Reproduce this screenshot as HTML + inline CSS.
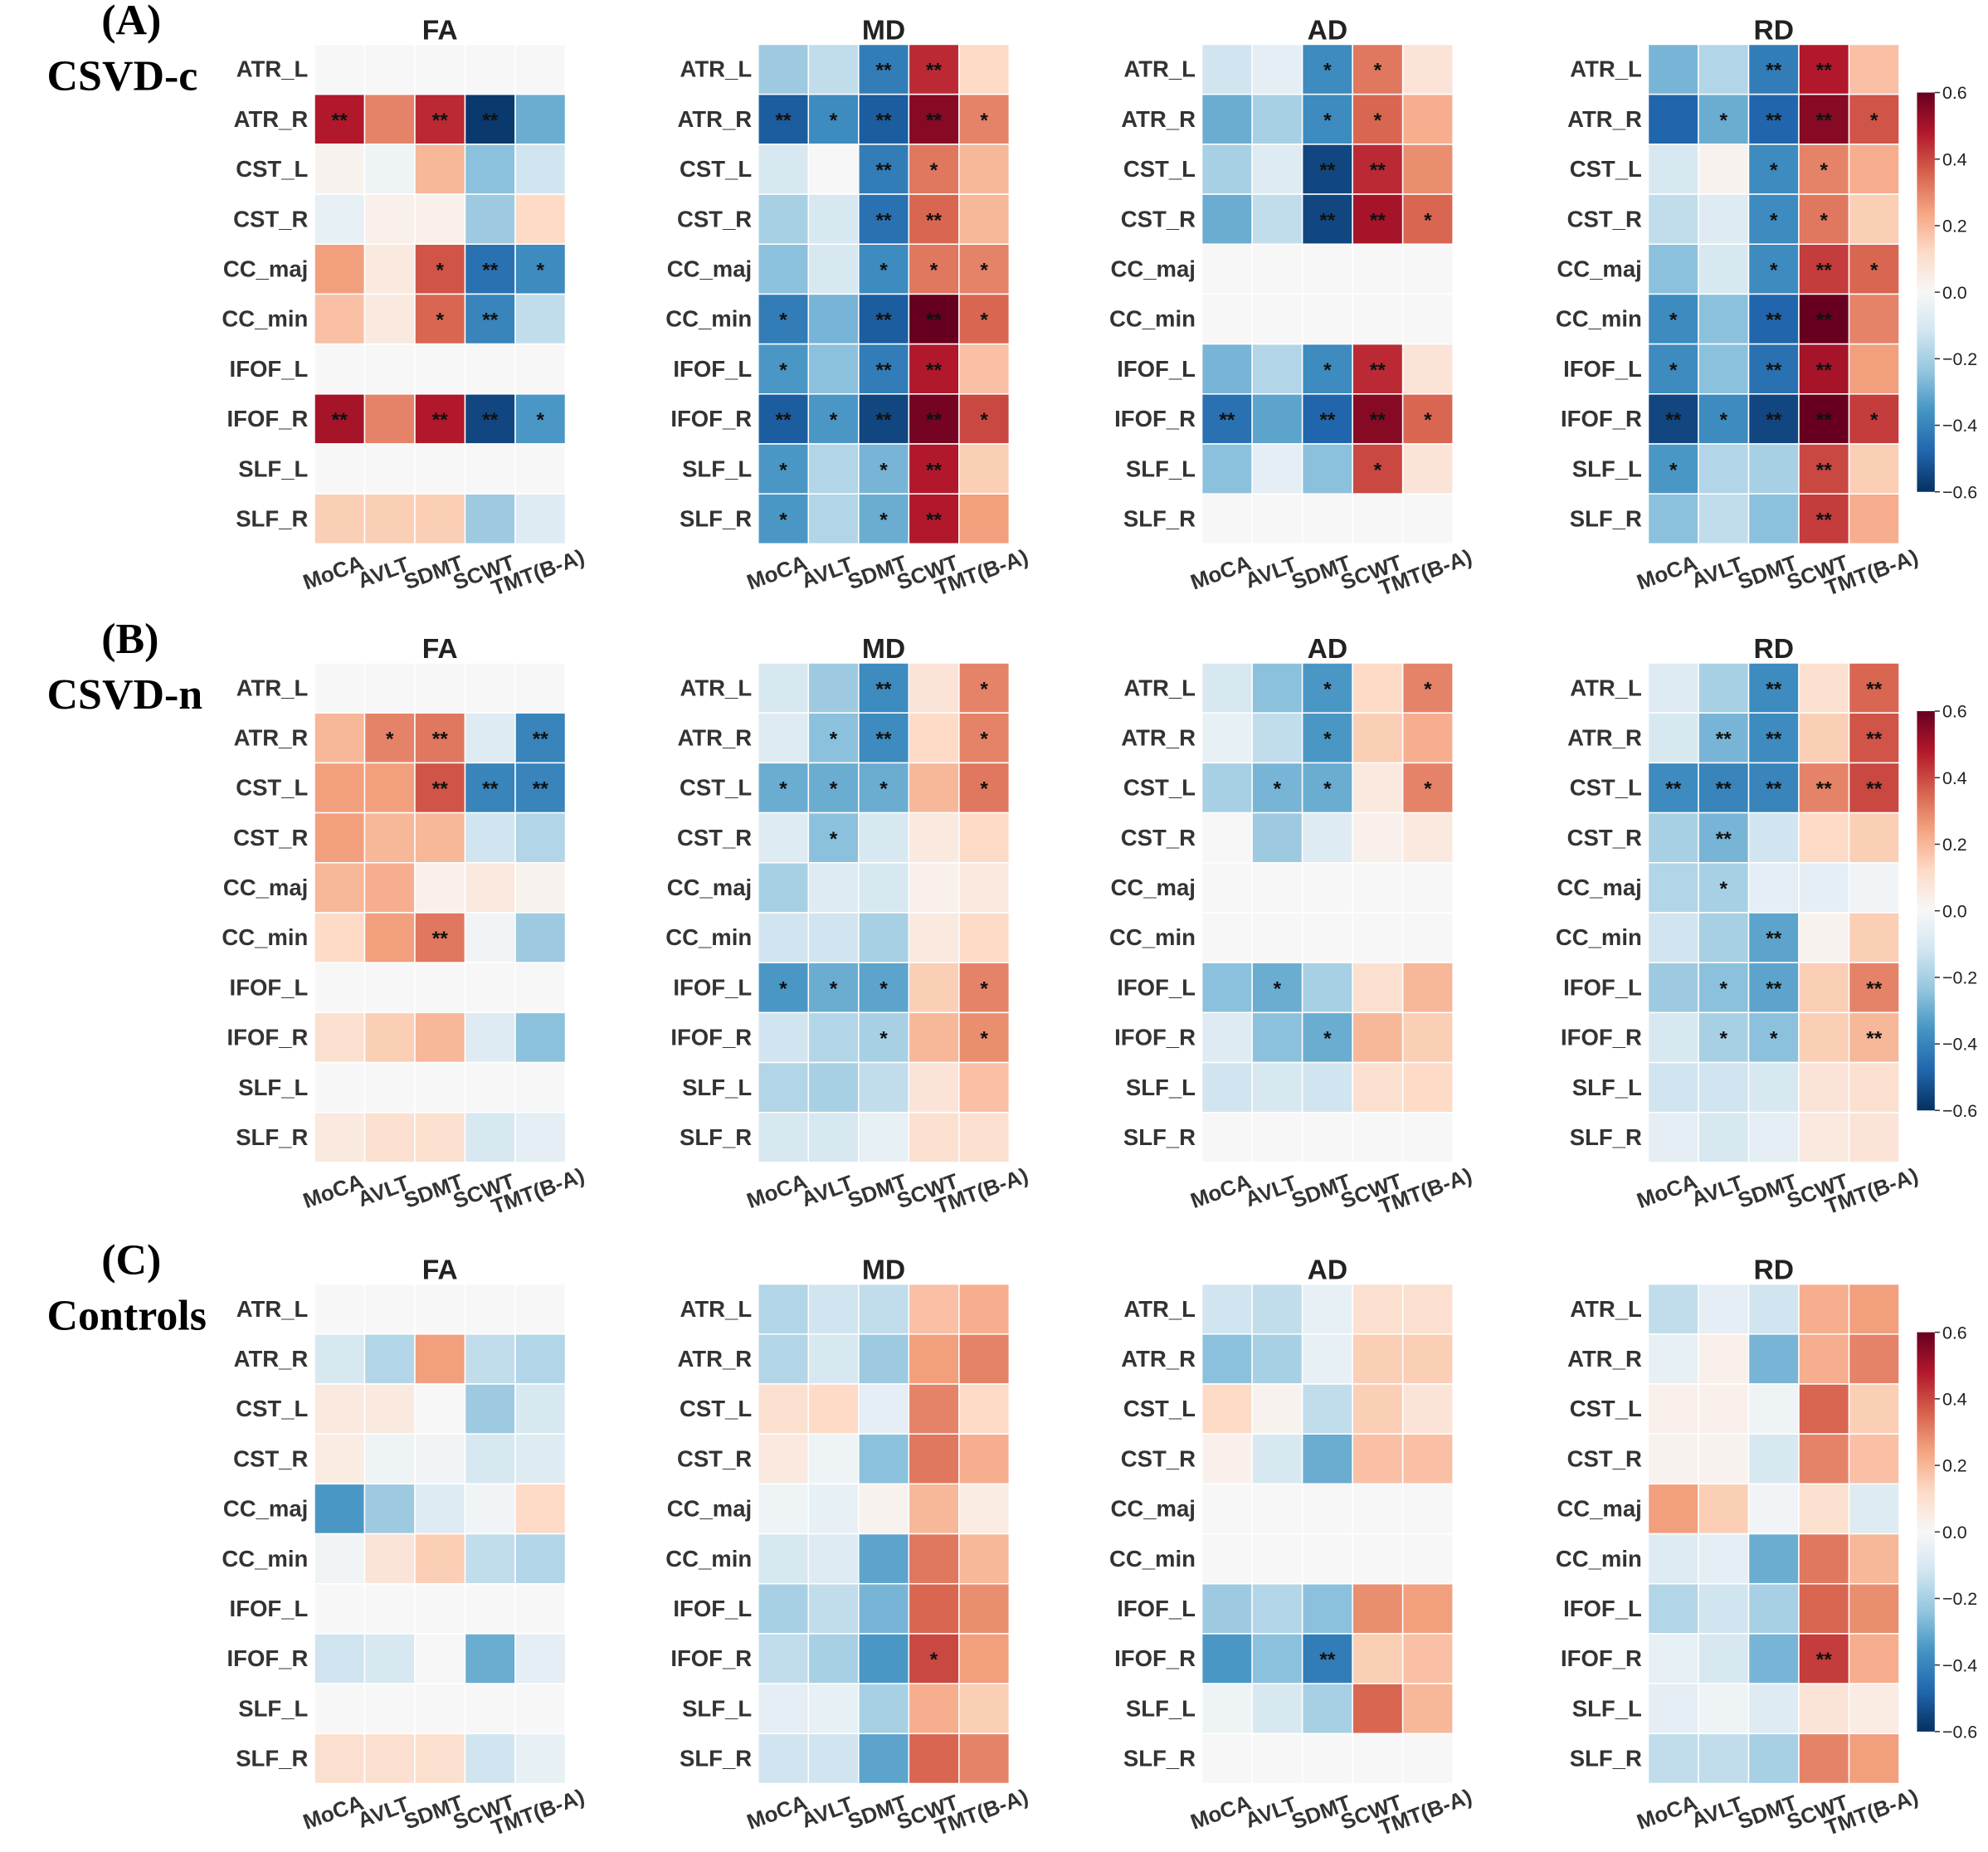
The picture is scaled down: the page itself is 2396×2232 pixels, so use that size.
<!DOCTYPE html>
<html><head><meta charset="utf-8"><style>
html,body{margin:0;padding:0;background:#fff;}
svg{display:block;}
</style></head><body>
<svg id="fig" xmlns="http://www.w3.org/2000/svg" width="2396" height="2232" viewBox="0 0 1568 1461" preserveAspectRatio="none"></svg>
<script>
const rowLabels=["ATR_L","ATR_R","CST_L","CST_R","CC_maj","CC_min","IFOF_L","IFOF_R","SLF_L","SLF_R"];
const colLabels=["MoCA","AVLT","SDMT","SCWT","TMT(B-A)"];
const metrics=["FA","MD","AD","RD"];
const groups=[{id:"A",letter:"(A)",name:"CSVD-c"},{id:"B",letter:"(B)",name:"CSVD-n"},{id:"C",letter:"(C)",name:"Controls"}];
const cbTicks=[0.6,0.4,0.2,0.0,-0.2,-0.4,-0.6];
const W=0.0;
const A_FA=[[W,W,W,W,W],[0.48,0.3,0.45,-0.58,-0.3],[0.02,-0.03,0.2,-0.25,-0.12],[-0.05,0.03,0.03,-0.22,0.12],[0.25,0.06,0.38,-0.45,-0.38],[0.18,0.06,0.35,-0.4,-0.15],[W,W,W,W,W],[0.5,0.3,0.48,-0.55,-0.35],[W,W,W,W,W],[0.15,0.15,0.15,-0.22,-0.08]];
const A_MD=[[-0.22,-0.15,-0.42,0.45,0.12],[-0.5,-0.38,-0.5,0.55,0.3],[-0.1,0.0,-0.42,0.32,0.2],[-0.2,-0.1,-0.45,0.35,0.2],[-0.25,-0.1,-0.38,0.32,0.3],[-0.42,-0.28,-0.5,0.6,0.35],[-0.35,-0.25,-0.42,0.48,0.18],[-0.5,-0.35,-0.55,0.58,0.4],[-0.35,-0.18,-0.28,0.48,0.15],[-0.35,-0.18,-0.3,0.48,0.25]];
const A_AD=[[-0.12,-0.06,-0.38,0.32,0.08],[-0.3,-0.2,-0.38,0.35,0.22],[-0.2,-0.08,-0.55,0.45,0.28],[-0.3,-0.15,-0.55,0.5,0.35],[W,W,W,W,W],[W,W,W,W,W],[-0.28,-0.18,-0.38,0.45,0.08],[-0.45,-0.32,-0.48,0.55,0.35],[-0.25,-0.06,-0.25,0.4,0.08],[W,W,W,W,W]];
const A_RD=[[-0.28,-0.18,-0.42,0.48,0.18],[-0.48,-0.3,-0.48,0.55,0.38],[-0.1,0.02,-0.38,0.3,0.22],[-0.15,-0.08,-0.38,0.32,0.15],[-0.25,-0.1,-0.38,0.42,0.35],[-0.38,-0.25,-0.48,0.6,0.3],[-0.38,-0.25,-0.45,0.5,0.25],[-0.55,-0.38,-0.55,0.6,0.42],[-0.35,-0.18,-0.2,0.4,0.15],[-0.25,-0.15,-0.25,0.42,0.22]];
const B_FA=[[W,W,W,W,W],[0.2,0.3,0.32,-0.08,-0.4],[0.25,0.25,0.38,-0.4,-0.4],[0.25,0.2,0.2,-0.12,-0.18],[0.2,0.22,0.03,0.06,0.02],[0.12,0.25,0.32,-0.02,-0.22],[W,W,W,W,W],[0.1,0.15,0.2,-0.08,-0.25],[W,W,W,W,W],[0.06,0.1,0.1,-0.1,-0.06]];
const B_MD=[[-0.1,-0.22,-0.38,0.08,0.3],[-0.08,-0.25,-0.38,0.12,0.3],[-0.3,-0.3,-0.3,0.2,0.32],[-0.08,-0.25,-0.1,0.06,0.12],[-0.2,-0.08,-0.1,0.03,0.06],[-0.12,-0.12,-0.2,0.06,0.12],[-0.35,-0.3,-0.32,0.15,0.3],[-0.12,-0.18,-0.2,0.2,0.28],[-0.18,-0.2,-0.15,0.08,0.18],[-0.1,-0.1,-0.05,0.1,0.1]];
const B_AD=[[-0.1,-0.25,-0.35,0.12,0.3],[-0.05,-0.15,-0.35,0.15,0.22],[-0.2,-0.28,-0.3,0.06,0.3],[0.0,-0.22,-0.08,0.03,0.06],[W,W,W,W,W],[W,W,W,W,W],[-0.25,-0.3,-0.2,0.1,0.2],[-0.08,-0.25,-0.3,0.2,0.15],[-0.12,-0.1,-0.12,0.1,0.12],[W,W,W,W,W]];
const B_RD=[[-0.08,-0.2,-0.38,0.1,0.35],[-0.1,-0.28,-0.38,0.15,0.38],[-0.38,-0.4,-0.4,0.3,0.4],[-0.2,-0.28,-0.12,0.12,0.15],[-0.18,-0.2,-0.06,-0.06,-0.02],[-0.12,-0.2,-0.32,0.02,0.15],[-0.22,-0.25,-0.32,0.15,0.3],[-0.1,-0.2,-0.25,0.15,0.2],[-0.12,-0.12,-0.1,0.08,0.1],[-0.06,-0.1,-0.06,0.06,0.08]];
const C_FA=[[W,W,W,W,W],[-0.1,-0.18,0.25,-0.15,-0.18],[0.06,0.06,0.0,-0.22,-0.1],[0.05,-0.03,-0.02,-0.1,-0.08],[-0.35,-0.22,-0.08,-0.02,0.12],[-0.02,0.08,0.15,-0.15,-0.18],[W,W,W,W,W],[-0.12,-0.1,0.0,-0.3,-0.06],[W,W,W,W,W],[0.1,0.1,0.1,-0.12,-0.05]];
const C_MD=[[-0.18,-0.12,-0.15,0.18,0.22],[-0.18,-0.1,-0.22,0.25,0.3],[0.1,0.12,-0.06,0.3,0.12],[0.06,-0.03,-0.25,0.32,0.22],[-0.03,-0.05,0.02,0.2,0.05],[-0.1,-0.08,-0.32,0.32,0.2],[-0.2,-0.15,-0.28,0.35,0.28],[-0.15,-0.2,-0.35,0.4,0.25],[-0.06,-0.05,-0.2,0.22,0.15],[-0.12,-0.12,-0.32,0.35,0.3]];
const C_AD=[[-0.12,-0.15,-0.05,0.1,0.1],[-0.25,-0.2,-0.05,0.15,0.15],[0.12,0.02,-0.15,0.15,0.08],[0.03,-0.1,-0.3,0.18,0.18],[W,W,W,W,W],[W,W,W,W,W],[-0.22,-0.18,-0.25,0.28,0.25],[-0.35,-0.25,-0.42,0.15,0.18],[-0.03,-0.1,-0.2,0.35,0.2],[W,W,W,W,W]];
const C_RD=[[-0.15,-0.06,-0.12,0.22,0.25],[-0.05,0.03,-0.28,0.22,0.3],[0.03,0.03,-0.03,0.35,0.15],[0.02,0.02,-0.1,0.3,0.18],[0.25,0.15,-0.02,0.1,-0.08],[-0.08,-0.06,-0.3,0.32,0.2],[-0.18,-0.12,-0.2,0.35,0.28],[-0.05,-0.1,-0.28,0.42,0.22],[-0.06,-0.03,-0.08,0.08,0.05],[-0.15,-0.15,-0.2,0.3,0.25]];
const E=["","","","",""];
const A_FA_s=[E,["**","","**","**",""],E,E,["","","*","**","*"],["","","*","**",""],E,["**","","**","**","*"],E,E];
const A_MD_s=[["","","**","**",""],["**","*","**","**","*"],["","","**","*",""],["","","**","**",""],["","","*","*","*"],["*","","**","**","*"],["*","","**","**",""],["**","*","**","**","*"],["*","","*","**",""],["*","","*","**",""]];
const A_AD_s=[["","","*","*",""],["","","*","*",""],["","","**","**",""],["","","**","**","*"],E,E,["","","*","**",""],["**","","**","**","*"],["","","","*",""],E];
const A_RD_s=[["","","**","**",""],["","*","**","**","*"],["","","*","*",""],["","","*","*",""],["","","*","**","*"],["*","","**","**",""],["*","","**","**",""],["**","*","**","**","*"],["*","","","**",""],["","","","**",""]];
const B_FA_s=[E,["","*","**","","**"],["","","**","**","**"],E,E,["","","**","",""],E,E,E,E];
const B_MD_s=[["","","**","","*"],["","*","**","","*"],["*","*","*","","*"],["","*","","",""],E,E,["*","*","*","","*"],["","","*","","*"],E,E];
const B_AD_s=[["","","*","","*"],["","","*","",""],["","*","*","","*"],E,E,E,["","*","","",""],["","","*","",""],E,E];
const B_RD_s=[["","","**","","**"],["","**","**","","**"],["**","**","**","**","**"],["","**","","",""],["","*","","",""],["","","**","",""],["","*","**","","**"],["","*","*","","**"],E,E];
const C_MD_s=[E,E,E,E,E,E,E,["","","","*",""],E,E];
const C_AD_s=[E,E,E,E,E,E,E,["","","**","",""],E,E];
const C_RD_s=[E,E,E,E,E,E,E,["","","","**",""],E,E];
const blank=[E,E,E,E,E,E,E,E,E,E];
const panelData={A:[A_FA,A_MD,A_AD,A_RD],B:[B_FA,B_MD,B_AD,B_RD],C:[C_FA,C_MD,C_AD,C_RD]};
const panelStars={A:[A_FA_s,A_MD_s,A_AD_s,A_RD_s],B:[B_FA_s,B_MD_s,B_AD_s,B_RD_s],C:[blank,C_MD_s,C_AD_s,C_RD_s]};

const NS="http://www.w3.org/2000/svg";
const svg=document.getElementById('fig');
function mk(tag,attrs,parent){const e=document.createElementNS(NS,tag);for(const k in attrs)e.setAttribute(k,attrs[k]);(parent||svg).appendChild(e);return e;}
const stops=[[-1,[5,48,97]],[-0.8,[33,102,172]],[-0.6,[67,147,195]],[-0.4,[146,197,222]],[-0.2,[209,229,240]],[0,[247,247,247]],[0.2,[253,219,199]],[0.4,[244,165,130]],[0.6,[214,96,77]],[0.8,[178,24,43]],[1,[103,0,31]]];
function color(v){let t=Math.max(-1,Math.min(1,v/0.6));for(let i=0;i<stops.length-1;i++){const a=stops[i],b=stops[i+1];if(t<=b[0]){const f=(t-a[0])/(b[0]-a[0]);const c=a[1].map((x,j)=>Math.round(x+(b[1][j]-x)*f));return `rgb(${c[0]},${c[1]},${c[2]})`;}}return 'rgb(103,0,31)';}
const panelX=[248,598,948,1300];
const panelY=[35,523,1013];
const cw=39.6,ch=39.4;
function xScale(px,c){return px+c*cw;}
function yScale(py,r){return py+r*ch;}
const defs=mk('defs',{});
const lg=mk('linearGradient',{id:'cbg',x1:0,y1:0,x2:0,y2:1},defs);
for(let i=0;i<=20;i++){const v=0.6-1.2*i/20;mk('stop',{offset:(i/20),'stop-color':color(v)},lg);}
const font='"Liberation Sans", Arial, sans-serif';
groups.forEach((g,gi)=>{
  const py=panelY[gi];
  const lt=mk('text',{x:80,y:py-8,'font-family':'"Liberation Serif", serif','font-weight':'bold','font-size':34,fill:'#000'});
  lt.textContent=g.letter;
  
  
  const nt=mk('text',{x:37,y:py+36,'font-family':'"Liberation Serif", serif','font-weight':'bold','font-size':34,fill:'#000'});
  nt.textContent=g.name;
  
  
  metrics.forEach((m,mi)=>{
    const px=panelX[mi];
    const grp=mk('g',{});
    
    
    const tt=mk('text',{x:px+2.5*cw,y:py-4,'text-anchor':'middle','font-family':font,'font-weight':'bold','font-size':22,fill:'#222'},grp);
    tt.textContent=m;
    
    
    const data=panelData[g.id][mi],stars=panelStars[g.id][mi];
    data.forEach((row,r)=>{
      row.forEach((v,c)=>{
        const rc=mk('rect',{x:xScale(px,c),y:yScale(py,r),width:cw,height:ch,fill:color(v),stroke:'#fff','stroke-width':1},grp);
        
        
        const s=stars[r][c];
        if(s){const st=mk('text',{x:xScale(px,c)+cw/2,y:yScale(py,r)+ch/2+6,'text-anchor':'middle','font-family':font,'font-weight':'bold','font-size':16,fill:'#111'},grp);st.textContent=s;
          
          }
      });
      const rl=mk('text',{x:px-5,y:yScale(py,r)+ch/2+6,'text-anchor':'end','font-family':font,'font-weight':'bold','font-size':18,fill:'#333'},grp);
      rl.textContent=rowLabels[r];
      
      
    });
    colLabels.forEach((cl,c)=>{
      const cx=xScale(px,c)+cw/2-(c===4?0:3), cy=py+10*ch+28;
      const t=mk('text',{x:cx,y:cy,'text-anchor':'middle','font-family':font,'font-weight':'bold','font-size':17,fill:'#333',transform:`rotate(-20 ${cx} ${cy})`},grp);
      t.textContent=cl;
      
      
    });
  });
  const cy0=py+38,cbh=315;
  const cb=mk('rect',{x:1512,y:cy0,width:14,height:cbh,fill:'url(#cbg)'});
  
  
  cbTicks.forEach(v=>{
    const y=cy0+(0.6-v)/1.2*cbh;
    mk('line',{x1:1526,x2:1530,y1:y,y2:y,stroke:'#333','stroke-width':1});
    const t=mk('text',{x:1532,y:y+5,'font-family':font,'font-size':14,fill:'#222'});
    t.textContent=(v<0?'\u2212':'')+Math.abs(v).toFixed(1);
    
    
  });
});
</script>
</body></html>
